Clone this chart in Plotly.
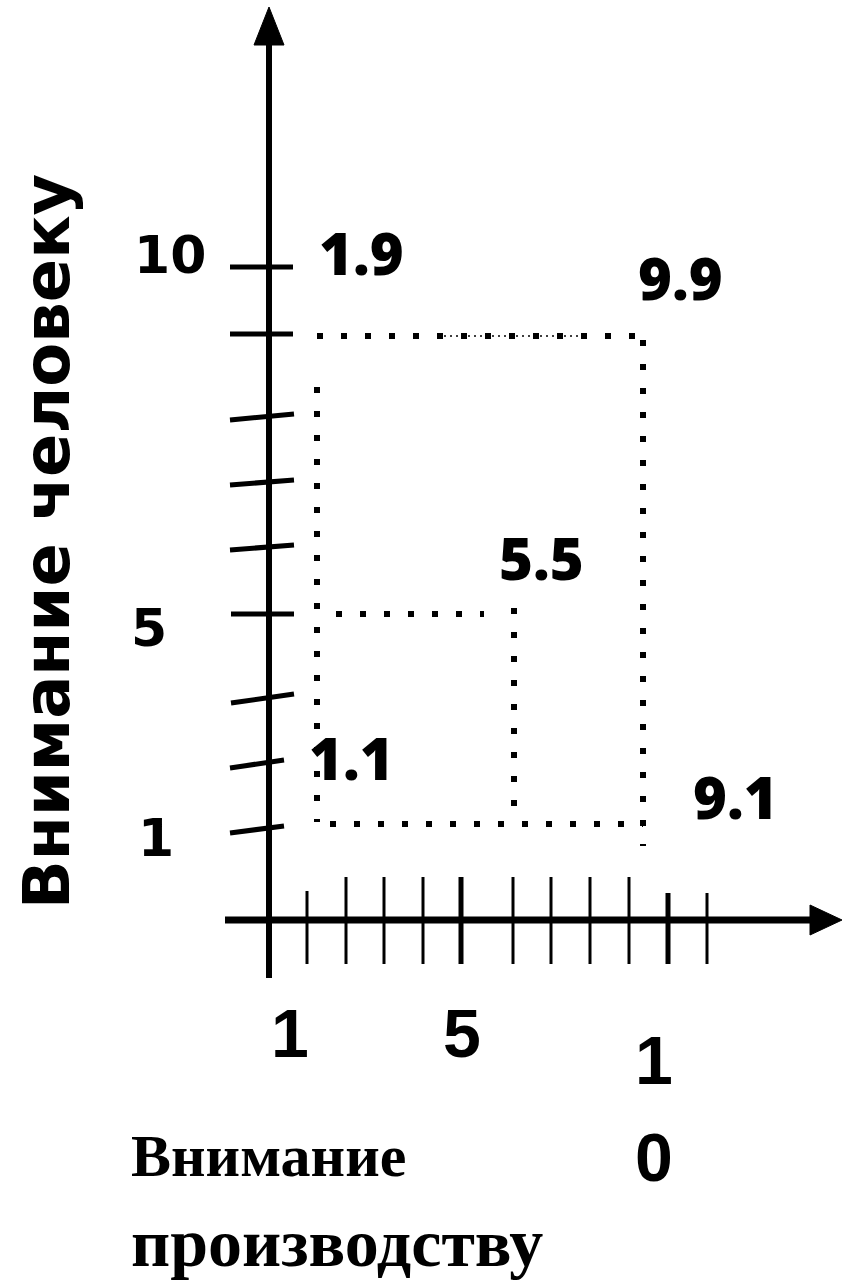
import plotly.graph_objects as go

W, H = 849, 1282

# ---- picture-unit geometry (y grows downward) ----
# vertical axis
yaxis_x = 269
yaxis_top = 45
yaxis_bottom = 978
# horizontal axis
xaxis_y = 920
xaxis_left = 225
xaxis_right = 812

# arrowheads
up_arrow_x = [254, 269, 284, 254]
up_arrow_y = [45, 7, 45, 45]
right_arrow_x = [810, 842, 810, 810]
right_arrow_y = [905, 920, 935, 905]

# ticks on the vertical axis (hand-drawn, some slanted)
ytick_x_left = [230, 230, 230, 230, 230, 231, 231, 230, 230]
ytick_x_right = [293, 293, 294, 294, 294, 294, 294, 284, 284]
ytick_y_left = [267, 334, 420, 485, 550, 614, 703, 768, 833]
ytick_y_right = [267, 334, 414, 480, 545, 614, 694, 760, 826]

# ticks on the horizontal axis
xtick_x = [307, 346, 384, 423, 461, 513, 551, 590, 629, 668, 707]
xtick_top = [891, 877, 877, 877, 877, 877, 877, 877, 877, 893, 893]
xtick_bottom = [964, 964, 964, 964, 964, 964, 964, 964, 964, 964, 964]
xtick_width = [3, 3, 3, 3, 5, 3, 3, 3, 3, 5, 3]

# dotted grid outlines: each segment as (x list, y list)
dotted_segments = [
    ([317, 643], [336, 336]),   # outer top (1.9 -> 9.9)
    ([643, 643], [340, 846]),   # outer right (9.9 -> 9.1)
    ([317, 317], [387, 822]),   # outer left (1.9 -> 1.1)
    ([330, 643], [824, 824]),   # outer bottom (1.1 -> 9.1)
    ([336, 484], [614, 614]),   # inner top (5.5)
    ([514, 514], [608, 822]),   # inner right (5.5)
]
fine_dots = ([438, 583], [336, 336])

# point labels of the grid
point_labels = ["1.9", "9.9", "5.5", "1.1", "9.1"]
point_label_x = [361, 680, 541, 351, 735]
point_label_y = [252, 277, 557, 757, 796]

# axis tick labels
ytick_labels = ["10", "5", "1"]
ytick_label_x = [170, 149, 156]
ytick_label_y = [255, 628, 838]

xtick_labels = ["1", "5", "1", "0"]
xtick_label_x = [290, 462, 654, 654]
xtick_label_y = [1033, 1033, 1060, 1157]

y_title = "Внимание человеку"
x_title_lines = ["Внимание", "производству"]
x_title_y = [1156, 1243]
x_title_size = [60, 68]

fig = go.Figure()

black = "#000000"

# axes lines
fig.add_trace(go.Scatter(x=[yaxis_x, yaxis_x], y=[yaxis_top, yaxis_bottom], mode="lines",
                         line=dict(color=black, width=6), hoverinfo="skip"))
fig.add_trace(go.Scatter(x=[xaxis_left, xaxis_right], y=[xaxis_y, xaxis_y], mode="lines",
                         line=dict(color=black, width=7), hoverinfo="skip"))
# arrowheads
fig.add_trace(go.Scatter(x=up_arrow_x, y=up_arrow_y, mode="lines", fill="toself",
                         fillcolor=black, line=dict(color=black, width=1), hoverinfo="skip"))
fig.add_trace(go.Scatter(x=right_arrow_x, y=right_arrow_y, mode="lines", fill="toself",
                         fillcolor=black, line=dict(color=black, width=1), hoverinfo="skip"))

# y ticks
for xl, xr, yl, yr in zip(ytick_x_left, ytick_x_right, ytick_y_left, ytick_y_right):
    fig.add_trace(go.Scatter(x=[xl, xr], y=[yl, yr], mode="lines",
                             line=dict(color=black, width=5), hoverinfo="skip"))
# x ticks
for xt, t, b, w in zip(xtick_x, xtick_top, xtick_bottom, xtick_width):
    fig.add_trace(go.Scatter(x=[xt, xt], y=[t, b], mode="lines",
                             line=dict(color=black, width=w), hoverinfo="skip"))

# dotted outlines
for xs, ys in dotted_segments:
    fig.add_trace(go.Scatter(x=xs, y=ys, mode="lines",
                             line=dict(color=black, width=6, dash="6px,18px"), hoverinfo="skip"))
fig.add_trace(go.Scatter(x=fine_dots[0], y=fine_dots[1], mode="lines",
                         line=dict(color=black, width=1.5, dash="2px,4px"), hoverinfo="skip"))

# point labels
for t, x, y in zip(point_labels, point_label_x, point_label_y):
    fig.add_annotation(x=x, y=y, text=t, showarrow=False, xanchor="center", yanchor="middle",
                       font=dict(family="Open Sans", size=58, color=black, weight=800))
for t, x, y in zip(ytick_labels, ytick_label_x, ytick_label_y):
    fig.add_annotation(x=x, y=y, text=t, showarrow=False, xanchor="center", yanchor="middle",
                       font=dict(family="DejaVu Sans", size=52, color=black, weight=700))
for t, x, y in zip(xtick_labels, xtick_label_x, xtick_label_y):
    fig.add_annotation(x=x, y=y, text=t, showarrow=False, xanchor="center", yanchor="middle",
                       font=dict(family="Liberation Sans", size=68, color=black, weight=700))
for t, y, s in zip(x_title_lines, x_title_y, x_title_size):
    fig.add_annotation(x=129, y=y, text=t, showarrow=False, xanchor="left", yanchor="middle",
                       font=dict(family="Liberation Serif", size=s, color=black, weight=700))
fig.add_annotation(x=47, y=542, text=y_title, showarrow=False, textangle=-90,
                   xanchor="center", yanchor="middle",
                   font=dict(family="DejaVu Sans", size=64, color=black, weight=700))

fig.update_layout(
    width=W, height=H,
    margin=dict(l=0, r=0, t=0, b=0),
    paper_bgcolor="white", plot_bgcolor="white",
    showlegend=False,
    xaxis=dict(range=[0, W], visible=False, fixedrange=True),
    yaxis=dict(range=[H, 0], visible=False, fixedrange=True),
)

fig.write_html("out.html", config={"displayModeBar": False},
               post_script="document.body.style.margin='0';document.body.style.overflow='hidden';")
